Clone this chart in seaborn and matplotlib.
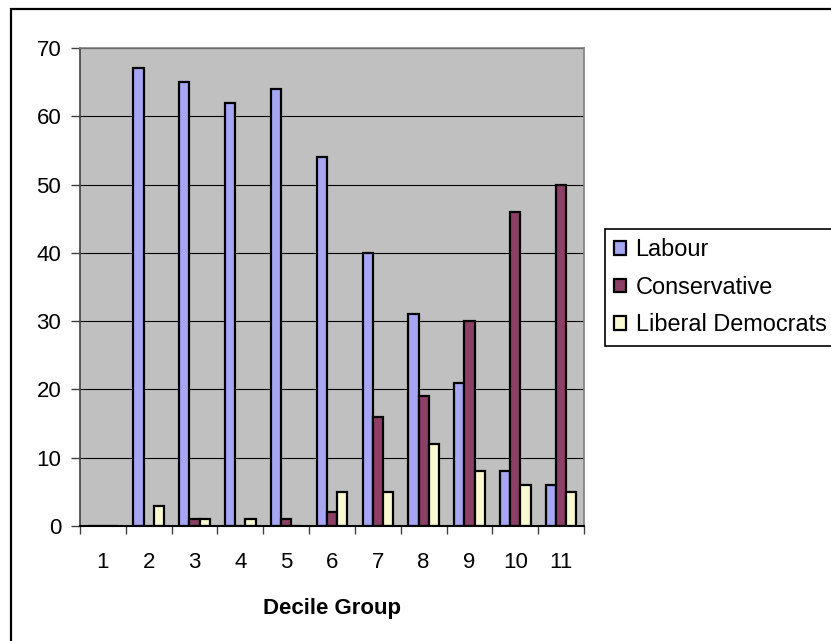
import matplotlib
matplotlib.use("Agg")
import matplotlib.pyplot as plt
from matplotlib.patches import Rectangle
import seaborn as sns
import pandas as pd
import numpy as np

# ---- data ----
deciles = ["1", "2", "3", "4", "5", "6", "7", "8", "9", "10", "11"]
labour = [0, 67, 65, 62, 64, 54, 40, 31, 21, 8, 6]
conservative = [0, 0, 1, 0, 1, 2, 16, 19, 30, 46, 50]
lib_dems = [0, 3, 1, 1, 0, 5, 5, 12, 8, 6, 5]
parties = ["Labour", "Conservative", "Liberal Democrats"]
colors = {"Labour": "#9999FF", "Conservative": "#993366", "Liberal Democrats": "#FFFFCC"}
y_ticks = [0, 10, 20, 30, 40, 50, 60, 70]

df = pd.DataFrame({
    "Decile": deciles * 3,
    "Party": [parties[0]] * len(deciles) + [parties[1]] * len(deciles) + [parties[2]] * len(deciles),
    "Value": labour + conservative + lib_dems,
})

sns.set_theme(style="white")
plt.rcParams["font.family"] = ["Liberation Sans", "DejaVu Sans"]
plt.rcParams["text.color"] = "black"
plt.rcParams["axes.labelcolor"] = "black"
plt.rcParams["xtick.color"] = "black"
plt.rcParams["ytick.color"] = "black"

fig = plt.figure(figsize=(8.31, 6.41), dpi=100)
ax = fig.add_axes([80 / 831, 1 - 526 / 641, 504 / 831, 478 / 641])
ax.set_facecolor("#C0C0C0")

sns.barplot(data=df, x="Decile", y="Value", hue="Party", order=deciles,
            hue_order=parties, palette=colors, width=0.667, gap=0,
            edgecolor="black", linewidth=1.6, ax=ax, legend=True)

ax.set_ylim(0, 70)
ax.set_xlim(-0.5, len(deciles) - 0.5)
ax.set_yticks(y_ticks)
ax.set_yticklabels([str(v) for v in y_ticks], fontsize=16)
ax.yaxis.grid(True, color="black", linewidth=0.8)
ax.set_axisbelow(True)

ax.set_xticks(np.arange(len(deciles)))
ax.set_xticklabels(deciles, fontsize=16)
ax.set_xticks(np.arange(-0.5, len(deciles), 1.0), minor=True)
ax.tick_params(axis="x", which="major", length=0, pad=19, labelcolor="black")
ax.tick_params(axis="x", which="minor", length=6, width=1, color="#404040", direction="out", bottom=True)
ax.tick_params(axis="y", which="major", length=6.5, width=1, color="#404040", direction="out", pad=7,
               left=True, labelcolor="black")

for side in ["top", "right"]:
    ax.spines[side].set_color("#808080")
    ax.spines[side].set_linewidth(1.2)
ax.spines["left"].set_color("#404040")
ax.spines["left"].set_linewidth(1.2)
ax.spines["bottom"].set_color("black")
ax.spines["bottom"].set_linewidth(1.5)

ax.set_ylabel("")
ax.set_xlabel("Decile Group", fontsize=16, fontweight="bold", labelpad=18, color="black")

handles, labels = ax.get_legend_handles_labels()
if ax.get_legend() is not None:
    ax.get_legend().remove()
leg = fig.legend(handles, labels, loc="upper left", bbox_to_anchor=(605 / 831, 1 - 229 / 641),
                 bbox_transform=fig.transFigure, fontsize=16.9, frameon=True, fancybox=False,
                 shadow=False, edgecolor="black", facecolor="white", framealpha=1,
                 borderpad=0.4, labelspacing=0.62, handlelength=0.5, handleheight=0.5,
                 handletextpad=0.4, borderaxespad=0, labelcolor="black")
leg.get_frame().set_linewidth(1.2)

# outer chart border (extends past right/bottom edges as in the reference)
fig.patches.append(Rectangle((11 / 831, -0.1), 1.2, 1.1 - 9 / 641, transform=fig.transFigure,
                             fill=False, edgecolor="black", linewidth=1.6, zorder=10))

fig.savefig("out.png", dpi=100)
